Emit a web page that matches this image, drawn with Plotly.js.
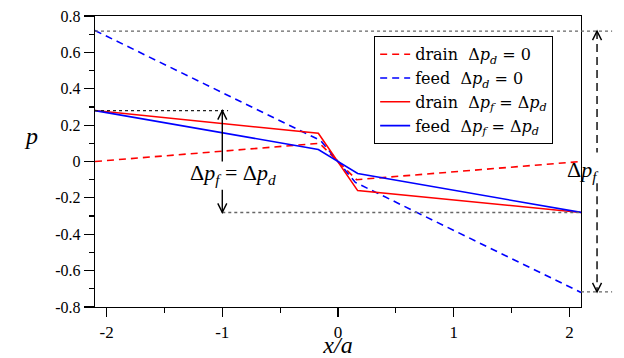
<!DOCTYPE html>
<html>
<head>
<meta charset="utf-8">
<script src="https://cdn.plot.ly/plotly-3.0.1.min.js"></script>
<style>
html,body{margin:0;padding:0;background:#fff;}
#chart{width:624px;height:358px;}
</style>
</head>
<body>
<div id="chart"></div>
<script>
// ---- data ----
var xDrainZero = [-2.1, -0.16, 0.16, 2.1];
var yDrainZero = [0, 0.1, -0.1, 0];
var xFeedZero = [-2.1, -0.15, 0.15, 2.1];
var yFeedZero = [0.72, 0.115, -0.115, -0.72];
var xDrainEq = [-2.1, -0.17, 0.17, 2.1];
var yDrainEq = [0.28, 0.155, -0.16, -0.28];
var xFeedEq = [-2.1, -0.17, 0.17, 2.1];
var yFeedEq = [0.28, 0.066, -0.066, -0.28];
var seriesNames = [
  'drain\u00a0\u00a0\u0394<i>p<sub>d</sub></i> = 0',
  'feed\u00a0\u00a0\u0394<i>p<sub>d</sub></i> = 0',
  'drain\u00a0\u00a0\u0394<i>p<sub>f</sub></i> = \u0394<i>p<sub>d</sub></i>',
  'feed\u00a0\u00a0\u0394<i>p<sub>f</sub></i> = \u0394<i>p<sub>d</sub></i>'
];
var xTickVals = [-2, -1, 0, 1, 2];
var xTickText = ['-2', '-1', '0', '1', '2'];
var yTickVals = [0.8, 0.6, 0.4, 0.2, 0, -0.2, -0.4, -0.6, -0.8];
var yTickText = ['0.8', '0.6', '0.4', '0.2', '0', '-0.2', '-0.4', '-0.6', '-0.8'];
var feedZeroLevel = 0.717;   // annotated Δp_f levels
var equalLevel = 0.28;

var X0 = -2.1, X1 = 2.1, Y0 = -0.8, Y1 = 0.8;
function px(x){ return (x - X0) / (X1 - X0); }
function py(y){ return (y - Y0) / (Y1 - Y0); }

var red = '#ff0000', blue = '#0000ff';

var traces = [
  {x: xDrainZero, y: yDrainZero, name: seriesNames[0], mode: 'lines', line: {color: red, width: 1.6, dash: '7px,5px'}},
  {x: xFeedZero, y: yFeedZero, name: seriesNames[1], mode: 'lines', line: {color: blue, width: 1.6, dash: '7px,5px'}},
  {x: xDrainEq, y: yDrainEq, name: seriesNames[2], mode: 'lines', line: {color: red, width: 1.6}},
  {x: xFeedEq, y: yFeedEq, name: seriesNames[3], mode: 'lines', line: {color: blue, width: 1.6}}
];

var dotLine = {color: '#666', width: 1.4, dash: '3px,3px'};
var cw = 4.5 / 486, ch = 9 / 291;   // chevron half-width, height (paper)
function chevron(xp, yp, up){
  var s = up ? -1 : 1;
  return {type: 'path', xref: 'paper', yref: 'paper',
    path: 'M' + (xp - cw) + ',' + (yp + s * ch) + ' L' + xp + ',' + yp + ' L' + (xp + cw) + ',' + (yp + s * ch),
    line: {color: '#000', width: 1.4}};
}
var xArrowL = px(-1);
var xArrowR = 1.033;
var shapes = [
  {type: 'line', xref: 'paper', yref: 'paper', x0: 0, x1: 1.064, y0: py(feedZeroLevel), y1: py(feedZeroLevel), line: dotLine},
  {type: 'line', xref: 'paper', yref: 'paper', x0: 1, x1: 1.064, y0: py(-feedZeroLevel), y1: py(-feedZeroLevel), line: dotLine},
  {type: 'line', xref: 'paper', yref: 'paper', x0: 0, x1: px(-0.95), y0: py(equalLevel), y1: py(equalLevel), line: {color: '#222', width: 1.2, dash: '3px,3px'}},
  {type: 'line', xref: 'paper', yref: 'paper', x0: px(-1), x1: 1, y0: py(-equalLevel), y1: py(-equalLevel), line: dotLine},
  {type: 'line', xref: 'paper', yref: 'paper', x0: xArrowL, x1: xArrowL, y0: py(equalLevel), y1: py(0.0), line: {color: '#000', width: 1.4}},
  {type: 'line', xref: 'paper', yref: 'paper', x0: xArrowL, x1: xArrowL, y0: py(-0.155), y1: py(-equalLevel), line: {color: '#000', width: 1.4}},
  chevron(xArrowL, py(equalLevel), true),
  chevron(xArrowL, py(-equalLevel), false),
  {type: 'line', xref: 'paper', yref: 'paper', x0: xArrowR, x1: xArrowR, y0: py(feedZeroLevel), y1: py(0.05), line: {color: '#000', width: 1.4, dash: '8px,5px'}},
  {type: 'line', xref: 'paper', yref: 'paper', x0: xArrowR, x1: xArrowR, y0: py(-0.12), y1: py(-feedZeroLevel), line: {color: '#000', width: 1.4, dash: '8px,5px'}},
  chevron(xArrowR, py(feedZeroLevel), true),
  chevron(xArrowR, py(-feedZeroLevel), false)
];

var annotations = [
  {xref: 'x', yref: 'y', x: -0.91, y: -0.07, showarrow: false,
   text: '\u0394<i>p<sub>f</sub></i> = \u0394<i>p<sub>d</sub></i>', font: {family: '"Liberation Serif"', size: 22, color: '#000'}},
  {xref: 'paper', yref: 'y', x: 1.041, y: -0.05, showarrow: false,
   text: '\u0394<i>p<sub>f</sub></i>', font: {family: 'Liberation Serif, serif', size: 22, color: '#000'}},
  {xref: 'paper', yref: 'y', x: -0.151, y: 0.14, showarrow: false,
   text: '<i>p</i>', font: {family: 'Times', size: 24, color: '#000'}}
];

var layout = {
  width: 624, height: 358,
  margin: {l: 95, r: 43, t: 16, b: 51},
  paper_bgcolor: '#fff', plot_bgcolor: '#fff',
  font: {family: 'serif', size: 16, color: '#000'},
  showlegend: true,
  legend: {x: 0.574, y: 0.931, xanchor: 'left', yanchor: 'top',
    bordercolor: '#000', borderwidth: 1.2, bgcolor: '#fff',
    font: {family: 'DejaVu Serif', size: 16, color: '#000'}, tracegroupgap: 0},
  xaxis: {range: [X0, X1], tickvals: xTickVals, ticktext: xTickText,
    ticks: 'outside', ticklen: 9, tickwidth: 1.2, tickcolor: '#000',
    minor: {dtick: 0.5, tick0: 0, ticks: 'outside', ticklen: 5, tickwidth: 1.2, tickcolor: '#000'},
    showline: true, linecolor: '#000', linewidth: 1.3, mirror: true,
    showgrid: false, zeroline: false,
    tickfont: {family: 'Times New Roman', size: 17, color: '#000'},
    title: {text: '<i>x/a</i>', font: {family: 'Georgia', size: 24, color: '#000'}, standoff: 0}},
  yaxis: {range: [Y0, Y1], tickvals: yTickVals, ticktext: yTickText,
    ticks: 'outside', ticklen: 10, tickwidth: 1.2, tickcolor: '#000',
    minor: {dtick: 0.1, tick0: 0, ticks: 'outside', ticklen: 5, tickwidth: 1.2, tickcolor: '#000'},
    showline: true, linecolor: '#000', linewidth: 1.3, mirror: true,
    showgrid: false, zeroline: false,
    tickfont: {family: 'serif', size: 16, color: '#000'}},
  shapes: shapes,
  annotations: annotations
};

Plotly.newPlot('chart', traces, layout, {displayModeBar: false, staticPlot: true});
</script>
</body>
</html>
